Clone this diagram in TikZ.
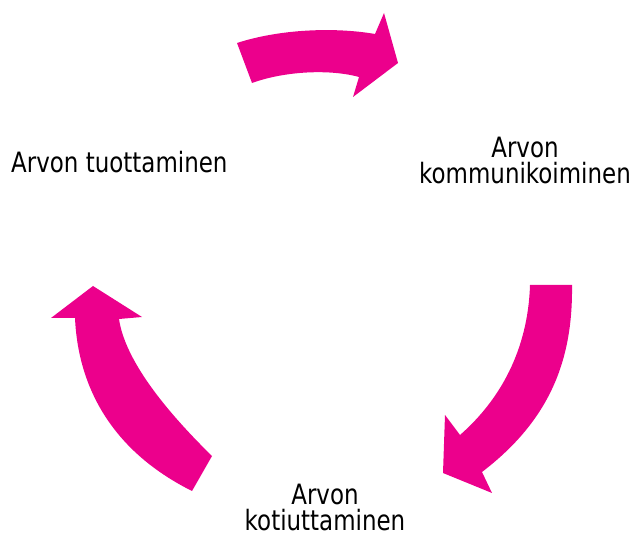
\documentclass[tikz,border=0pt]{standalone}
\usepackage{fontspec}
\setmainfont[FakeStretch=0.82]{DejaVu Sans}
\definecolor{mag}{RGB}{236,0,140}
\begin{document}
\begin{tikzpicture}[x=1pt,y=-1pt,
  arrowshape/.style={fill=mag,draw=none},
  label/.style={inner sep=0pt,align=center,font=\fontsize{28}{26.5}\selectfont}]
\useasboundingbox (0,0) rectangle (633,537);
% top arrow
\fill[arrowshape] (237,43) .. controls (280,29) and (335,27) .. (375,34)
  -- (384,13) -- (398,63) -- (353,97) -- (359,77)
  .. controls (330,69) and (285,71) .. (252,83) -- cycle;
% right arrow
\fill[arrowshape] (530,285) -- (572,285)
  .. controls (573,360) and (550,420) .. (482,472)
  -- (492,493) -- (443,473) -- (445,415) -- (460,435)
  .. controls (500,400) and (528,350) .. (530,285) -- cycle;
% left arrow
\fill[arrowshape] (212,456) -- (192,491)
  .. controls (110,450) and (78,385) .. (75,318)
  -- (51,318) -- (93,286) -- (142,317) -- (119,319)
  .. controls (125,360) and (165,410) .. (212,456) -- cycle;
\node[label,anchor=base west] (prod) at (11,173) {Arvon tuottaminen};
\node[label,anchor=base] (comm) at (525,184) {Arvon\\kommunikoiminen};
\node[label,anchor=base] (koti) at (325,531) {Arvon\\kotiuttaminen};
\end{tikzpicture}
\end{document}
